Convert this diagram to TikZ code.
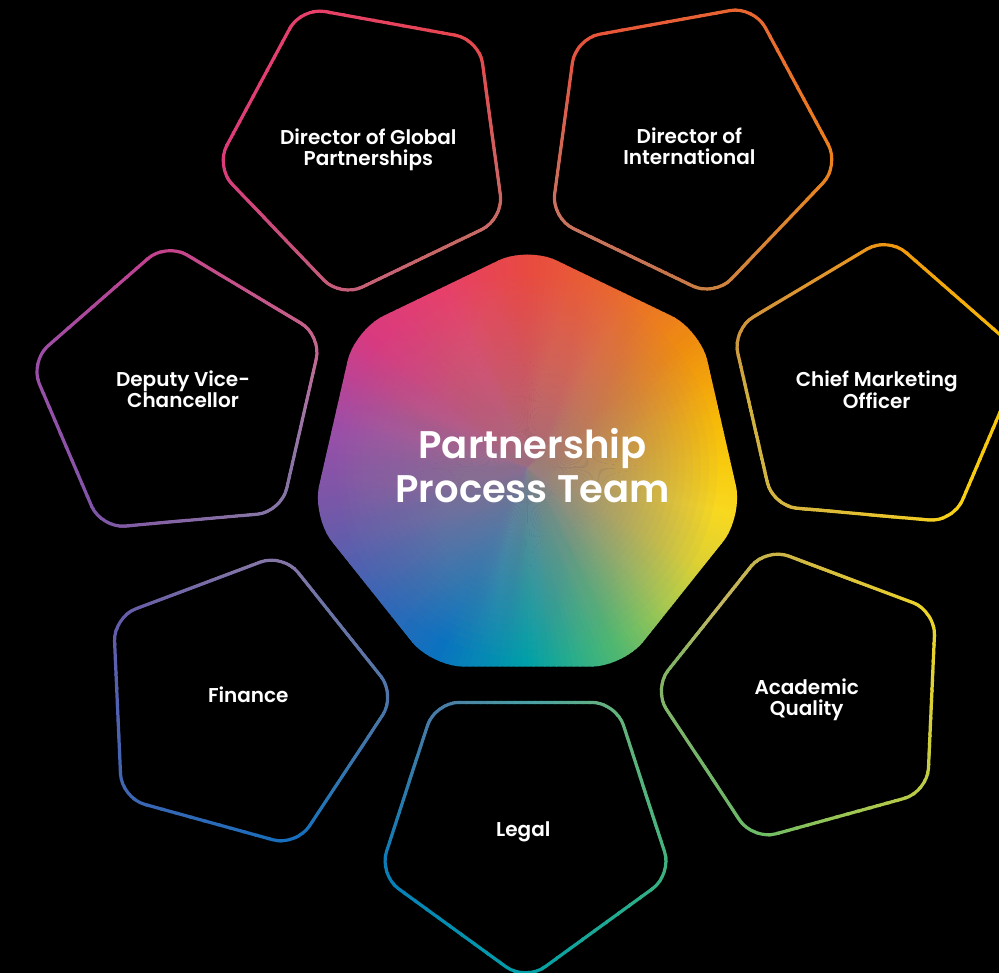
\documentclass[tikz,border=0pt]{standalone}
\usepackage{fontspec}
\setmainfont{Poppins}[BoldFont={Poppins SemiBold}]
\usetikzlibrary{calc}
\definecolor{k0}{HTML}{F8CC10}
\definecolor{k15}{HTML}{F6B808}
\definecolor{k38}{HTML}{EE8C10}
\definecolor{k62}{HTML}{E86A30}
\definecolor{k90}{HTML}{E84A40}
\definecolor{k115}{HTML}{E6406A}
\definecolor{k141}{HTML}{D83A80}
\definecolor{k168}{HTML}{9C4EA8}
\definecolor{k193}{HTML}{7458A8}
\definecolor{k220}{HTML}{3C66B4}
\definecolor{k244}{HTML}{0A72C0}
\definecolor{k270}{HTML}{00A0A8}
\definecolor{k296}{HTML}{50B870}
\definecolor{k315}{HTML}{A8C850}
\definecolor{k330}{HTML}{DCD034}
\definecolor{k347}{HTML}{F8D820}
\definecolor{k360}{HTML}{F8CC10}
\definecolor{hmutetop}{HTML}{CC6C7C}
\definecolor{hmutebot}{HTML}{6A90A6}
\definecolor{rmute}{HTML}{C4B4A4}
\tikzset{
  lbltext/.style={text=white, font=\bfseries\fontsize{20}{21}\selectfont, align=center, inner sep=0pt},
  titletext/.style={text=white, font=\bfseries\fontsize{38.5}{44}\selectfont, align=center, inner sep=0pt}
}
\newcommand\conicwedges{%
  \foreach \ai/\aj/\ci/\cj in {0/15/k0/k15, 15/38/k15/k38, 38/62/k38/k62, 62/90/k62/k90, 90/115/k90/k115, 115/141/k115/k141, 141/168/k141/k168, 168/193/k168/k193, 193/220/k193/k220, 220/244/k220/k244, 244/270/k244/k270, 270/296/k270/k296, 296/315/k296/k315, 315/330/k315/k330, 330/347/k330/k347, 347/360/k347/k360}{%
    \foreach \t in {0,...,15}{%
      \pgfmathsetmacro\angA{\ai+(\aj-\ai)*\t/16}%
      \pgfmathsetmacro\angB{\ai+(\aj-\ai)*(\t+1)/16+0.25}%
      \pgfmathsetmacro\pc{100*(\t+0.5)/16}%
      \fill[fill=\cj!\pc!\ci] (HC) -- ($(HC)+({-\angA}:620)$) -- ($(HC)+({-\angB}:620)$) -- cycle;
    }%
  }%
}
\begin{document}
\begin{tikzpicture}[x=1pt,y=-1pt]
\fill[black] (0,0) rectangle (999,973);
\useasboundingbox (0,0) rectangle (999,973);
\coordinate (HC) at (527.5,467.5);
\foreach \k in {0,...,6}{
  \coordinate (h\k) at ($(HC)+({-(90+51.428571*\k)}:221)$);
}
\foreach \n/\cx/\cy/\th in {1/368/146/115.71, 2/687/145/64.29, 3/874/390/12.86, 4/807/696/-38.57, 5/525.5/827/-90, 6/242/702/-141.43, 7/180/396/167.14}{
  \coordinate (c\n) at (\cx,\cy);
  \foreach \k in {0,...,4}{
    \coordinate (o\n\k) at ($(c\n)+({-(\th+72*\k)}:156)$);
    \coordinate (i\n\k) at ($(c\n)+({-(\th+72*\k)}:152)$);
  }
}
% gradient painted through heptagon and pentagon rings
\begin{scope}
\path[clip]
  [rounded corners=32pt] (h0) -- (h1) -- (h2) -- (h3) -- (h4) -- (h5) -- (h6) -- cycle
  [rounded corners=25.2pt] (o10) -- (o11) -- (o12) -- (o13) -- (o14) -- cycle
  [rounded corners=22.8pt] (i14) -- (i13) -- (i12) -- (i11) -- (i10) -- cycle
  [rounded corners=25.2pt] (o20) -- (o21) -- (o22) -- (o23) -- (o24) -- cycle
  [rounded corners=22.8pt] (i24) -- (i23) -- (i22) -- (i21) -- (i20) -- cycle
  [rounded corners=25.2pt] (o30) -- (o31) -- (o32) -- (o33) -- (o34) -- cycle
  [rounded corners=22.8pt] (i34) -- (i33) -- (i32) -- (i31) -- (i30) -- cycle
  [rounded corners=25.2pt] (o40) -- (o41) -- (o42) -- (o43) -- (o44) -- cycle
  [rounded corners=22.8pt] (i44) -- (i43) -- (i42) -- (i41) -- (i40) -- cycle
  [rounded corners=25.2pt] (o50) -- (o51) -- (o52) -- (o53) -- (o54) -- cycle
  [rounded corners=22.8pt] (i54) -- (i53) -- (i52) -- (i51) -- (i50) -- cycle
  [rounded corners=25.2pt] (o60) -- (o61) -- (o62) -- (o63) -- (o64) -- cycle
  [rounded corners=22.8pt] (i64) -- (i63) -- (i62) -- (i61) -- (i60) -- cycle
  [rounded corners=25.2pt] (o70) -- (o71) -- (o72) -- (o73) -- (o74) -- cycle
  [rounded corners=22.8pt] (i74) -- (i73) -- (i72) -- (i71) -- (i70) -- cycle;
\conicwedges
\foreach \i in {1,...,56}{%
  \pgfmathsetmacro\rr{190*(\i/56)^2.5}%
  \shade[top color=hmutetop, bottom color=hmutebot, fill opacity=0.055] (HC) circle (\rr pt);
}
\end{scope}
% softer colours on the inner parts of the rings
\begin{scope}
\path[clip]
  [rounded corners=25.2pt] (o10) -- (o11) -- (o12) -- (o13) -- (o14) -- cycle
  [rounded corners=22.8pt] (i14) -- (i13) -- (i12) -- (i11) -- (i10) -- cycle
  [rounded corners=25.2pt] (o20) -- (o21) -- (o22) -- (o23) -- (o24) -- cycle
  [rounded corners=22.8pt] (i24) -- (i23) -- (i22) -- (i21) -- (i20) -- cycle
  [rounded corners=25.2pt] (o30) -- (o31) -- (o32) -- (o33) -- (o34) -- cycle
  [rounded corners=22.8pt] (i34) -- (i33) -- (i32) -- (i31) -- (i30) -- cycle
  [rounded corners=25.2pt] (o40) -- (o41) -- (o42) -- (o43) -- (o44) -- cycle
  [rounded corners=22.8pt] (i44) -- (i43) -- (i42) -- (i41) -- (i40) -- cycle
  [rounded corners=25.2pt] (o50) -- (o51) -- (o52) -- (o53) -- (o54) -- cycle
  [rounded corners=22.8pt] (i54) -- (i53) -- (i52) -- (i51) -- (i50) -- cycle
  [rounded corners=25.2pt] (o60) -- (o61) -- (o62) -- (o63) -- (o64) -- cycle
  [rounded corners=22.8pt] (i64) -- (i63) -- (i62) -- (i61) -- (i60) -- cycle
  [rounded corners=25.2pt] (o70) -- (o71) -- (o72) -- (o73) -- (o74) -- cycle
  [rounded corners=22.8pt] (i74) -- (i73) -- (i72) -- (i71) -- (i70) -- cycle;
\foreach \r in {230,235,...,430}{\fill[rmute, fill opacity=0.016] (HC) circle (\r pt);}
\end{scope}
% texts
\node[titletext] (title) at (532.5,465.5) {Partnership\\Process Team};
\node[lbltext] (t1) at (368.3,149.5) {Director of Global\\Partnerships};
\node[lbltext] (t2) at (689.4,146.3) {Director of\\International};
\node[lbltext] (t3) at (876.7,389.7) {Chief Marketing\\Officer};
\node[lbltext] (t4) at (806.7,699.5) {Academic\\Quality};
\node[lbltext] (t5) at (523.3,831.7) {Legal};
\node[lbltext] (t6) at (248.3,695.2) {Finance};
\node[lbltext] (t7) at (183,389.7) {Deputy Vice-\\Chancellor};
\end{tikzpicture}
\end{document}
